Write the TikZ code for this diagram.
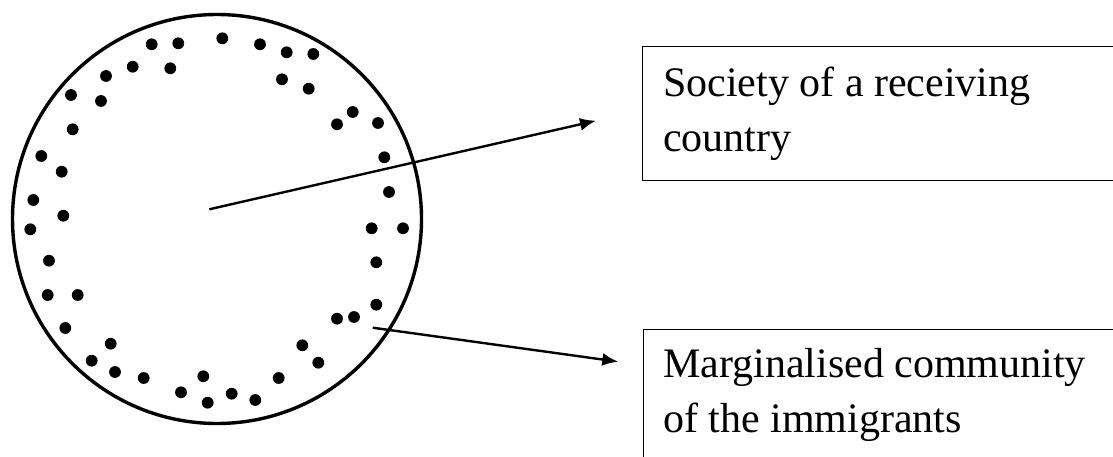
\documentclass[tikz,border=0pt]{standalone}
\usepackage{fontspec}
\setmainfont{Liberation Serif}
\usepackage{tikz}
\usetikzlibrary{arrows.meta}

\tikzset{
  dot/.style={fill=black},
  ring/.style={draw=black, line width=3.4pt},
  frame/.style={draw=black, line width=1.4pt, anchor=north west, inner sep=0pt},
  lbl/.style={anchor=base west, align=left, inner sep=0pt,
    font=\fontsize{42}{55}\selectfont},
  pointer/.style={line width=2.4pt, -{Latex[length=16pt,width=13pt]}}
}

\begin{document}
\begin{tikzpicture}[x=1pt,y=-1pt]
  \useasboundingbox (0,0) rectangle (1113,457);
  \clip (0,0) rectangle (1113,457);

  % the society
  \draw[ring] (217,219) circle (204.5pt);

  % the immigrants, spread along the rim
  \foreach \x/\y in {151.7/44.3, 178.3/43.3, 222.3/38.3, 260/44.3, 286.7/52.3, 313.3/54,
      132.7/66.7, 170.3/68.3, 282/79.3, 308.7/88.7, 106/76, 71/95, 101/101,
      72.7/129.3, 41.3/156, 61.7/171.7, 33.3/200, 63.3/215.7, 30.3/229.3,
      49/260.7, 47.7/295, 77.7/295, 65.3/328, 110.7/343.7, 91.7/360.7,
      115/372, 143.7/378, 181/392.3, 203.3/376.3, 207.7/402.7, 231.7/393.7,
      255.3/400, 278.7/378, 302.3/345.3, 318.3/362.7, 337/318.7, 354/317,
      376.3/304.7, 376.3/262.3, 371.7/228.3, 403/228.3, 389/192, 384.3/157.3,
      378/123, 337/124.3, 352.7/112}
    \fill[dot] (\x,\y) circle (5.9pt);

  % boxes (last line sits on the given point)
  \node[frame, minimum width=520pt, minimum height=134pt] (socbox) at (642,46) {};
  \node[lbl] (soctext) at (663,151.2) {Society of a receiving\\country};
  \node[frame, minimum width=520pt, minimum height=200pt] (migbox) at (643,329) {};
  \node[lbl] (migtext) at (663,432.5) {Marginalised community\\of the immigrants};

  % arrows
  \coordinate (socfrom) at (209.3,209.3);
  \coordinate (socto) at (596,120.7);
  \coordinate (migfrom) at (372.7,327.7);
  \coordinate (migto) at (618.3,361.7);
  \draw[pointer] (socfrom) -- (socto);
  \draw[pointer] (migfrom) -- (migto);
\end{tikzpicture}
\end{document}
